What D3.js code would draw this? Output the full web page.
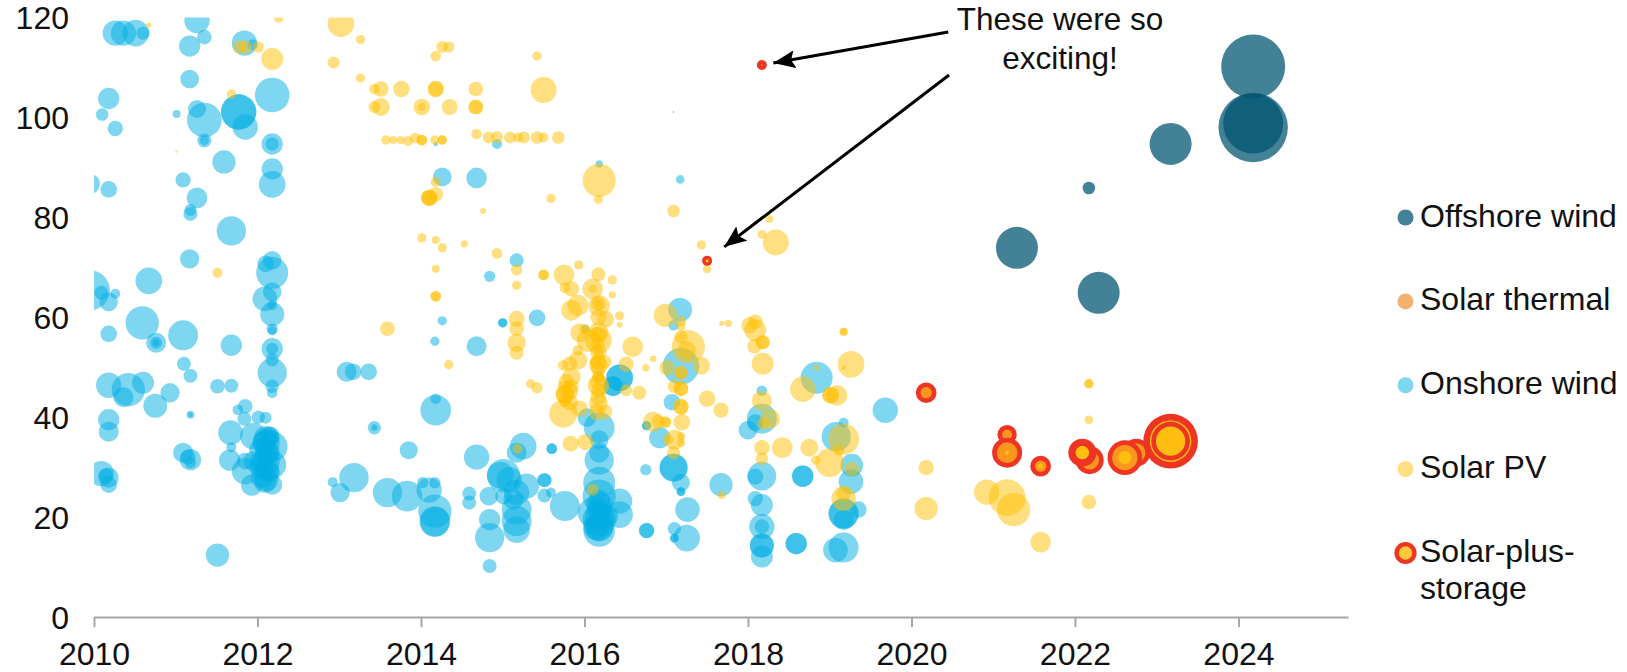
<!DOCTYPE html>
<html>
<head>
<meta charset="utf-8">
<script src="https://cdn.jsdelivr.net/npm/d3@7/dist/d3.min.js"></script>
<style>
html,body{margin:0;padding:0;background:#fff;overflow:hidden}
text{font-family:"Liberation Sans",Arial,sans-serif;fill:#111}
</style>
</head>
<body>
<svg id="chart" width="1627" height="672"></svg>
<script>
// Each bubble: [year, price, capacity in MW]
const offshoreWind = [
 [2024.18,110.2,3072],[2024.18,98,3612],[2024.18,98.8,2700],[2023.17,94.7,1323],
 [2022.17,85.9,119],[2021.29,73.9,1323],[2022.29,64.9,1323]
];
const onshoreWind = [
 [2010.26,116.9,481],[2010.36,116.9,481],[2010.51,116.9,533],[2010.60,116.9,133],[2011.26,119.4,481],[2011.35,116.1,161],
 [2011.17,114.3,341],[2011.84,114.9,481],[2011.94,114.6,85],[2011.17,107.7,261],[2010.18,103.8,341],[2010.10,100.6,120],
 [2010.26,97.8,176],[2011.01,100.7,48],[2011.26,101.7,243],[2011.35,99.5,901],[2011.77,101.1,936],[2011.77,101.1,936],
 [2011.85,98.1,481],[2012.18,104.5,901],[2011.35,95.4,147],[2011.35,95.4,65],[2012.18,94.7,341],[2012.18,94.7,133],
 [2011.59,91.1,408],[2012.18,89.7,341],[2012.18,86.6,533],[2011.09,87.5,176],[2011.26,83.9,320],[2011.18,81.5,108],
 [2011.18,80.7,147],[2009.95,86.7,300],[2010.18,85.6,208],[2011.68,77.3,645],[2011.17,71.7,280],[2012.18,71.4,261],
 [2012.10,70.7,208],[2012.18,68.9,768],[2012.18,65.1,261],[2012.09,63.7,456],[2012.18,60.6,432],[2012.18,62.4,75],
 [2010.67,67.3,533],[2010.59,58.9,833],[2011.09,56.4,675],[2010.18,56.7,208],[2009.95,65.4,1200],[2010.09,64.9,147],
 [2010.26,64.7,75],[2010.18,63.1,261],[2012.18,57.7,96],[2012.18,57.3,65],
 [2011.68,54.4,341],[2010.76,54.9,300],[2010.76,54.9,108],[2010.76,54.9,33],[2012.18,53.7,341],[2012.18,53.7,108],
 [2012.18,51.5,133],[2012.18,48.9,645],[2012.18,46.2,133],[2012.18,44.9,85],[2011.10,50.7,147],[2011.18,48.3,147],
 [2011.51,46.2,161],[2011.68,46.3,147],[2010.18,46.4,481],[2010.42,45.5,833],[2010.60,46.9,363],[2010.36,44,300],
 [2010.93,44.9,280],[2010.75,42.3,432],[2011.18,40.5,48],[2011.18,40.5,16],[2011.85,42.2,161],[2011.76,41.5,85],
 [2011.84,39.7,147],[2012.01,40,133],[2012.10,39.9,108],[2010.18,39.5,341],[2010.18,37.1,300],[2011.67,36.9,456],
 [2011.68,34,75],[2011.09,32.9,300],[2011.15,32,176],[2011.18,31.5,341],[2011.18,30.9,96],
 [2011.95,36.2,533],[2012.11,34.9,533],[2012.18,34.1,705],[2012.18,30.5,588],[2012.11,31.2,533],[2012.10,35.9,408],
 [2012.15,36.2,300],[2012.11,27.5,408],[2012.18,26.5,300],[2011.93,26.4,341],[2011.85,29.2,533],[2011.66,31.4,341],
 [2011.95,31.2,300],[2011.85,31.2,208],[2012.11,32.9,408],[2012.07,29.5,300],[2012.15,28.9,300],
 [2012.08,35,408],[2012.13,33,408],[2012.05,31,408],[2012.12,29.5,408],[2012.05,28,341],[2012.09,27,341],
 [2012.03,33.5,341],[2012.02,30,300],[2012.14,36,300],
 [2010.09,28.7,481],[2010.18,27.9,300],[2010.14,28.3,161],[2010.18,26.5,208],
 [2013.43,37.9,133],[2013.43,37.9,33],[2013.43,37.9,5],[2013.85,33.4,243],[2013.09,49.1,300],[2013.17,49.1,208],
 [2013.36,49.1,208],[2013.18,27.9,645],[2012.92,27,75],[2013.01,24.9,280],[2013.59,24.9,645],[2013.83,24.2,705],
 [2011.51,12.4,408],
 [2014.10,25.4,481],[2014.02,26.9,96],[2014.17,26.9,96],[2014.17,21.2,833],[2014.17,19.1,705],[2014.17,19.1,650],
 [2014.59,24.7,147],[2014.59,22.9,147],[2014.83,24.2,261],[2014.97,28.4,533],
 [2014.84,19.5,341],[2014.84,15.9,645],[2014.84,10.2,147],
 [2014.17,55.2,65],[2014.68,54.2,300],[2014.18,41.4,705],[2014.18,43.7,85],[2015.25,34.2,533],[2015.17,32.9,300],
 [2015.60,33.7,85],[2015.60,33.7,85],[2014.68,32,481],[2015.01,28.3,833],[2015.08,27.5,481],[2015.29,26.2,481],
 [2015.17,24.9,481],[2015.51,27.4,147],[2015.51,27.4,147],[2015.51,24.3,147],[2015.59,24.9,75],[2015.76,22.2,675],
 [2015.17,21.5,675],[2015.17,19.2,675],[2015.17,17.5,533],[2015.13,23.5,300],[2015.01,24.2,208],
 [2016.18,37.9,705],[2016.03,39.9,261],[2016.18,35.5,261],[2016.18,31.4,645],[2016.18,32.9,300],[2016.18,26.9,768],
 [2016.18,24.2,833],[2016.10,20.9,675],[2016.18,19.5,833],[2016.27,20.2,408],[2016.43,20.5,533],[2016.43,23.2,481],
 [2016.18,17.2,736],[2016.18,17.9,533],[2016.18,21.5,432],[2016.18,23.5,300],
 [2016.18,18,600],[2016.18,20,600],[2016.18,22.5,500],[2016.14,18,500],
 [2016.43,47.9,533],[2016.43,47.9,533],[2016.35,46.2,300],[2016.35,46.2,300],[2016.76,17.3,176],[2016.76,17.3,176],
 [2016.75,29.5,96],[2016.76,38.3,65],[2016.76,38.3,65],[2016.92,35.9,341],[2017.07,43,208],[2017.18,50.2,1008],
 [2017.09,29.9,588],[2017.09,29.9,588],[2017.18,26.9,243],[2017.18,25.1,56],[2017.18,25.1,56],[2017.26,21.5,456],
 [2017.10,17.7,133],[2017.10,15.8,56],[2017.10,15.8,56],[2017.25,15.8,533],[2017.67,26.5,408],
 [2014.93,94.7,75],[2014.18,94.7,16],[2016.18,90.7,40],[2017.09,101.1,3],[2017.17,87.6,56],[2014.26,88.1,261],
 [2014.68,87.9,320],[2015.17,71.4,147],[2014.84,68.2,96],[2014.26,59.3,65],[2015.00,58.9,65],[2015.00,58.9,65],
 [2015.42,59.9,208],[2017.17,61.5,432],[2017.09,58.4,85],[2016.01,57.7,48],
 [2018.84,47.9,768],[2018.17,45.3,85],[2018.17,39.7,675],[2018.00,37.4,261],[2018.09,38.9,208],[2018.17,28.2,616],
 [2018.09,28.1,192],[2018.67,28.2,341],[2018.67,28.2,341],[2018.09,23.7,176],[2018.17,22.4,363],[2018.17,18.1,481],
 [2018.17,18.1,161],[2018.17,14.3,432],[2018.17,14.3,432],[2018.17,12.1,363],[2018.59,14.7,341],[2018.59,14.7,341],
 [2019.07,13.4,456],[2019.17,13.9,675],[2019.08,36.1,645],[2019.17,38.9,75],[2019.27,30.4,385],[2019.26,27.1,456],
 [2019.17,20.7,675],[2019.17,20.7,675],[2019.17,19.4,300],[2019.35,21.5,208],[2019.68,41.4,481]
];
const solarPV = [
 [2010.67,118.5,21],[2011.01,93.2,5],[2011.68,104.7,65],[2012.26,119.9,65],[2011.78,114.1,133],[2011.85,114.1,133],
 [2012.01,114.1,96],[2012.18,111.7,363],[2013.02,118.8,533],[2013.26,115.6,65],[2012.93,111,108],[2013.26,107.9,65],
 [2013.43,105.7,85],[2013.51,105.7,176],[2013.76,105.7,208],[2013.43,102.1,108],[2013.51,102.1,243],[2013.59,57.7,161],
 [2011.51,68.9,75],
 [2013.57,95.5,65],[2013.66,95.5,48],[2013.75,95.5,48],[2013.84,95.3,75],[2013.93,95.9,85],[2014.01,95.5,85],[2014.01,95.5,85],
 [2014.17,95.5,65],[2014.26,95.5,65],[2014.26,95.5,65],
 [2014.26,114.1,108],[2014.34,114.1,96],[2014.18,112.3,85],[2015.42,112.3,65],[2014.18,105.7,192],[2014.18,105.7,192],
 [2014.67,105.7,161],[2015.50,105.5,507],[2014.01,102.1,208],[2014.01,102.1,48],[2014.35,102.1,192],[2014.67,102.1,161],[2014.67,102.1,161],
 [2014.68,96.7,85],[2014.83,96,108],[2014.93,96.1,108],[2015.09,96,108],[2015.19,96,75],[2015.26,96,108],[2015.42,96,120],
 [2015.50,96,75],[2015.68,96,120],
 [2016.18,87.4,833],[2016.17,83.6,65],[2014.18,87.1,75],[2014.18,84.6,161],[2014.10,83.9,192],[2014.10,83.9,192],[2014.10,83.9,192],
 [2015.59,83.8,65],[2014.76,81.3,27],[2017.09,81.3,120],[2018.26,79.7,48],[2018.17,76.6,56],[2018.34,75,507],[2017.43,74.5,65],
 [2017.50,69.7,56],[2014.01,75.9,65],[2014.18,75.5,48],[2014.26,73.9,65],[2014.53,74.7,40],[2014.93,72.8,85],[2015.17,69.5,96],
 [2014.18,69.7,48],[2015.17,66.4,65],[2014.18,64.2,85],[2014.18,64.2,85],[2015.50,68.5,85],[2015.50,68.5,85],[2015.17,59.7,192],[2015.17,57.7,161],
 [2015.93,70.5,65],[2015.75,68.5,320],[2016.17,68.6,147],[2016.34,67.5,65],[2015.76,65.9,85],[2015.84,65.7,176],[2016.10,65.7,320],
 [2016.10,65.7,48],[2016.34,64.5,40],[2015.84,61.4,320],[2015.92,62.4,341],[2016.17,62.7,161],[2016.18,62.3,341],[2016.17,62.7,48],
 [2016.26,59.6,208],[2016.43,60.3,65],[2016.43,58.5,27],[2015.94,56.9,261],[2016.0,57.6,85],[2016.05,55.4,408],[2016.17,55.4,533],
 [2016.17,56.4,208],[2016.17,54.7,133],[2016.17,52.7,85],[2015.92,53.4,85],[2015.92,51.4,261],[2015.74,50.4,85],[2015.82,50.7,161],
 [2016.17,60,200],[2016.17,57,300],[2016.17,53,200],[2016.17,51,200],[2016.17,47,200],[2016.17,44,200],[2016.15,41,200],
 [2015.78,47,200],[2015.82,43,200],[2015.76,46,150],
 [2016.59,54.1,320],[2016.51,50.6,176],[2016.84,51.7,33],[2016.75,49.9,40],[2016.99,60.4,408],[2017.18,59.2,85],[2017.18,58.2,65],
 [2017.18,56.1,133],[2017.27,54.1,833],[2017.25,53.4,261],[2017.01,49.9,176],[2017.43,50.3,225],[2017.18,48.9,133],[2017.18,48.9,133],
 [2017.10,46.2,133],[2017.18,45.7,161],[2017.18,45.7,161],[2017.18,42.1,176],[2017.18,42.1,176],[2017.50,43.7,208],[2017.67,41.4,176],
 [2017.68,58.8,21],[2017.76,58.8,40],[2018.02,58.4,208],[2018.09,59.1,161],[2018.09,57.4,363],[2018.08,54.2,161],[2018.18,55,147],[2018.18,55,147],
 [2018.18,50.7,363],[2015.84,48.1,261],[2015.84,46.1,161],[2015.76,44.6,261],[2015.76,44.6,261],[2015.82,45.1,208],[2015.76,43.4,133],
 [2015.94,41.7,208],[2015.74,40.7,588],[2015.34,46.7,65],[2015.42,45.9,96],
 [2016.17,50.4,261],[2016.17,49.7,161],[2016.17,48.1,108],[2016.17,48.1,108],[2016.17,46.4,341],[2016.17,45.4,161],[2016.25,51.1,133],
 [2016.13,51.1,85],[2016.17,42.7,261],[2016.25,41.1,161],[2016.51,45.4,108],[2016.67,44.9,147],
 [2014.34,50.5,65],[2015.17,54.9,261],[2015.17,52.9,147],[2015.83,34.7,192],[2016.01,35,192],[2015.18,33.7,75],[2016.10,25.5,108],
 [2016.84,39.1,300],[2016.90,39.2,133],[2016.99,39,96],[2016.99,39,96],[2017.19,39,208],[2017.03,35.5,75],[2017.10,35.5,300],
 [2017.18,36.2,48],[2017.18,34.9,48],[2017.09,32.9,133],[2017.68,24.4,48],
 [2018.17,43.3,300],[2018.27,39.7,300],[2018.19,38.7,108],[2018.17,33.9,176],[2018.17,31.7,120],[2018.42,33.9,320],[2018.75,33.9,243],
 [2018.83,31.4,65],[2019.0,30.9,616],[2018.67,45.6,481],[2019.01,44.4,208],[2019.01,44.4,208],[2019.09,44.4,320],[2019.17,57.1,48],[2019.17,57.1,48],
 [2019.26,50.6,533],[2019.17,49.9,16],[2018.84,49.9,27],[2019.17,35.6,705],[2019.11,33.4,96],[2019.27,29.6,161],[2019.17,23.7,456],[2019.17,24.7,161],
 [2022.17,46.7,65],[2022.17,46.7,65],[2022.17,39.5,56],[2022.17,23,161],[2020.18,29.9,176],[2020.18,21.7,408],[2020.92,25,481],
 [2021.17,23.9,1008],[2021.25,21.5,833],[2021.58,15,320]
];
const solarPlusStorage = [
 [2018.17,110.5,75],[2017.50,71.3,75],[2020.18,44.9,320],[2021.17,36.5,280],[2021.17,32.9,675],[2021.58,30.2,320],
 [2022.18,31.4,588],[2022.09,32.9,588],[2022.09,32.9,385],[2022.75,32.9,588],[2022.61,31.9,901],[2023.17,35.2,2241],[2023.17,35.2,1925]
];
const storageSolarCores = [
 [2018.17,110.5,1],[2017.50,71.3,8],[2021.17,32.9,12],[2021.58,30.2,21],[2022.09,32.9,133],[2022.61,31.9,133],[2023.17,35.2,1281]
];
const storageInnerRings = [[2023.17,35.2,1121]];
const xTickLabels = [2010,2012,2014,2016,2018,2020,2022,2024];
const yTickLabels = [0,20,40,60,80,100,120];
const legendNames = [["Offshore wind"],["Solar thermal"],["Onshore wind"],["Solar PV"],["Solar-plus-","storage"]];
const legendColors = ["#005571","#EF8F2A","#00ADE4","#FFBF00",null];
const noteLines = ["These were so","exciting!"];
const noteArrows = [
 {from:[2020.45,117.1],to:[2018.31,110.9]},
 {from:[2020.46,108.5],to:[2017.71,74.1]}
];

const RED="#EE3524", ORANGE="#F8961D", YELLOW="#FFBF10";
const RING=4.7;
const svg=d3.select("#chart");
const x=d3.scaleLinear().domain([2010,2025.34]).range([94,1348]);
const y=d3.scaleLinear().domain([0,120]).range([617,17.6]);
const r=d3.scaleSqrt().domain([0,3675]).range([0,35]);

svg.append("clipPath").attr("id","plot").append("rect")
  .attr("x",x(2010)).attr("y",y(120)).attr("width",1627-x(2010)).attr("height",y(0)-y(120));

const plot=svg.append("g").attr("clip-path","url(#plot)");
function bubbles(data,fill,op){
  plot.append("g").selectAll("circle").data(data).join("circle")
    .attr("cx",d=>x(d[0])).attr("cy",d=>y(d[1])).attr("r",d=>r(d[2]))
    .attr("fill",fill).attr("fill-opacity",op);
}
bubbles(offshoreWind,"#005571",0.74);
bubbles(onshoreWind,"#00ADE4",0.5);
bubbles(solarPV,"#FFBF00",0.5);
// solar-plus-storage: red disc with an orange core, yellow centre on top
const sp=plot.append("g").selectAll("g").data(solarPlusStorage).join("g");
sp.append("circle").attr("cx",d=>x(d[0])).attr("cy",d=>y(d[1])).attr("r",d=>r(d[2])).attr("fill",RED);
sp.append("circle").attr("cx",d=>x(d[0])).attr("cy",d=>y(d[1])).attr("r",d=>Math.max(0,r(d[2])-RING)).attr("fill",ORANGE);
plot.append("g").selectAll("circle").data(storageSolarCores).join("circle")
  .attr("cx",d=>x(d[0])).attr("cy",d=>y(d[1])).attr("r",d=>r(d[2])).attr("fill",YELLOW);
plot.append("g").selectAll("circle").data(storageInnerRings).join("circle")
  .attr("cx",d=>x(d[0])).attr("cy",d=>y(d[1])).attr("r",d=>r(d[2])-RING/2)
  .attr("fill","none").attr("stroke",RED).attr("stroke-width",RING);

// axes
const gx=svg.append("g").attr("transform",`translate(0,${y(0)})`)
  .call(d3.axisBottom(x).tickValues(xTickLabels).tickFormat(d3.format("d")).tickSize(10).tickSizeOuter(0));
gx.select(".domain").attr("stroke","#A6A6A6").attr("stroke-width",2);
gx.selectAll(".tick line").attr("stroke","#A6A6A6").attr("stroke-width",2);
gx.selectAll("text").attr("font-size",32).attr("font-family",null).attr("fill",null).attr("y",48).attr("dy",null);
const gy=svg.append("g").attr("transform",`translate(${x(2010)},0)`)
  .call(d3.axisLeft(y).tickValues(yTickLabels).tickSize(0).tickFormat(d3.format("d")));
gy.select(".domain").remove();
gy.selectAll("text").attr("font-size",32).attr("font-family",null).attr("fill",null)
  .attr("x",-25).attr("dy",null).attr("y",11);
gx.attr("font-family",null); gy.attr("font-family",null);

// legend
const legendY=d3.scalePoint().domain(legendNames.map(d=>d[0])).range([217.5,553]);
legendNames.forEach((lines,i)=>{
  const cy=legendY(lines[0]);
  if(legendColors[i]){
    const solid=i===1?"#F4B26F":null;
    svg.append("circle").attr("cx",1405.5).attr("cy",cy).attr("r",8)
      .attr("fill",solid||legendColors[i]).attr("fill-opacity",solid?1:(i===0?0.74:0.5));
  } else {
    svg.append("circle").attr("cx",1405.5).attr("cy",cy).attr("r",8.9).attr("fill","#FFC93C")
      .attr("stroke",RED).attr("stroke-width",4.4);
  }
  lines.forEach((t,k)=>svg.append("text").attr("x",1420).attr("y",cy+9+k*37).attr("font-size",32).text(t));
});

// annotation
const defs=svg.append("defs");
defs.append("marker").attr("id","head").attr("viewBox","0 0 22 18").attr("refX",22).attr("refY",9)
  .attr("markerWidth",22).attr("markerHeight",18).attr("markerUnits","userSpaceOnUse").attr("orient","auto")
  .append("path").attr("d","M0,0L22,9L0,18L4,9Z").attr("fill","#000");
svg.selectAll(".arrow").data(noteArrows).join("line").attr("class","arrow")
  .attr("x1",d=>x(d.from[0])).attr("y1",d=>y(d.from[1])).attr("x2",d=>x(d.to[0])).attr("y2",d=>y(d.to[1]))
  .attr("stroke","#000").attr("stroke-width",3).attr("marker-end","url(#head)");
noteLines.forEach((t,i)=>svg.append("text").attr("x",1060).attr("y",30+i*39)
  .attr("text-anchor","middle").attr("font-size",31.5).text(t));
</script>
</body>
</html>
